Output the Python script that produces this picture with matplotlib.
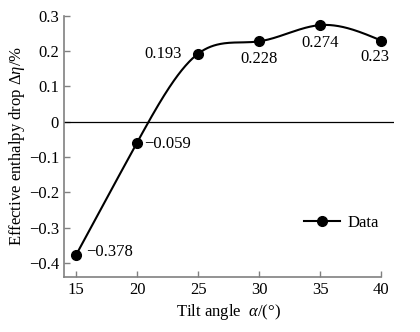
import numpy as np
import matplotlib
matplotlib.use("Agg")
import matplotlib.pyplot as plt

plt.rcParams['font.family'] = ['Liberation Serif', 'DejaVu Serif']
plt.rcParams['mathtext.fontset'] = 'custom'
plt.rcParams['mathtext.rm'] = 'Liberation Serif'
plt.rcParams['mathtext.it'] = 'Liberation Serif:italic'

tilt_angle = [15, 20, 25, 30, 35, 40]
enthalpy_drop = [-0.378, -0.059, 0.193, 0.228, 0.274, 0.23]
value_labels = ['\u22120.378', '\u22120.059', '0.193', '0.228', '0.274', '0.23']
x_ticks = [15, 20, 25, 30, 35, 40]
y_ticks = [-0.4, -0.3, -0.2, -0.1, 0, 0.1, 0.2, 0.3]
y_tick_labels = ['\u22120.4', '\u22120.3', '\u22120.2', '\u22120.1', '0', '0.1', '0.2', '0.3']


def natural_spline(x, y, xs):
    x = np.asarray(x, float)
    y = np.asarray(y, float)
    n = len(x)
    h = np.diff(x)
    A = np.zeros((n, n))
    b = np.zeros(n)
    A[0, 0] = A[-1, -1] = 1
    for i in range(1, n - 1):
        A[i, i - 1] = h[i - 1]
        A[i, i] = 2 * (h[i - 1] + h[i])
        A[i, i + 1] = h[i]
        b[i] = 6 * ((y[i + 1] - y[i]) / h[i] - (y[i] - y[i - 1]) / h[i - 1])
    m = np.linalg.solve(A, b)
    idx = np.clip(np.searchsorted(x, xs) - 1, 0, n - 2)
    x0, x1 = x[idx], x[idx + 1]
    hh = x1 - x0
    t0, t1 = x1 - xs, xs - x0
    return (m[idx] * t0**3 / (6 * hh) + m[idx + 1] * t1**3 / (6 * hh)
            + (y[idx] / hh - m[idx] * hh / 6) * t0
            + (y[idx + 1] / hh - m[idx + 1] * hh / 6) * t1)


fig = plt.figure(figsize=(4.2, 3.32), dpi=100)
ax = fig.add_axes([0.152, 0.166, 0.785, 0.786])

xs = np.linspace(tilt_angle[0], tilt_angle[-1], 400)
ys = natural_spline(tilt_angle, enthalpy_drop, xs)
ax.plot(xs, ys, color='black', lw=1.5, zorder=3)
ax.plot(tilt_angle, enthalpy_drop, 'o', color='black', ms=7, zorder=4)
ax.plot([], [], '-o', color='black', lw=1.5, ms=7, label='Data')

ax.axhline(0, color='black', lw=0.9, zorder=2)

offsets = [(7, 2), (5, -1), (-12, 0), (0, -13), (0, -13), (-5, -12)]
aligns = [('left', 'center'), ('left', 'center'), ('right', 'center'),
          ('center', 'center'), ('center', 'center'), ('center', 'center')]
for xv, yv, lab, off, (ha, va) in zip(tilt_angle, enthalpy_drop, value_labels, offsets, aligns):
    ax.annotate(lab, (xv, yv), xytext=off, textcoords='offset points',
                ha=ha, va=va, fontsize=12)

ax.set_xlim(14, 41)
ax.set_ylim(-0.44, 0.3)
ax.set_xticks(x_ticks)
ax.set_yticks(y_ticks)
ax.set_yticklabels(y_tick_labels)
ax.tick_params(direction='in', length=4, color='#808080', labelsize=12, width=1)

for side in ['top', 'right']:
    ax.spines[side].set_visible(False)
for side in ['left', 'bottom']:
    ax.spines[side].set_color('#808080')
    ax.spines[side].set_linewidth(1.2)
ax.spines['bottom'].set_bounds(14, 40)

ax.set_xlabel('Tilt angle  $\\alpha$/(°)', fontsize=12, labelpad=3)
ax.set_ylabel('Effective enthalpy drop $\\Delta\\eta$/%', fontsize=12, labelpad=1)

ax.legend(loc='lower right', bbox_to_anchor=(1.0, 0.12), frameon=False,
          fontsize=12, handlelength=2.2, handletextpad=0.4)

fig.savefig('out.png', dpi=100)
